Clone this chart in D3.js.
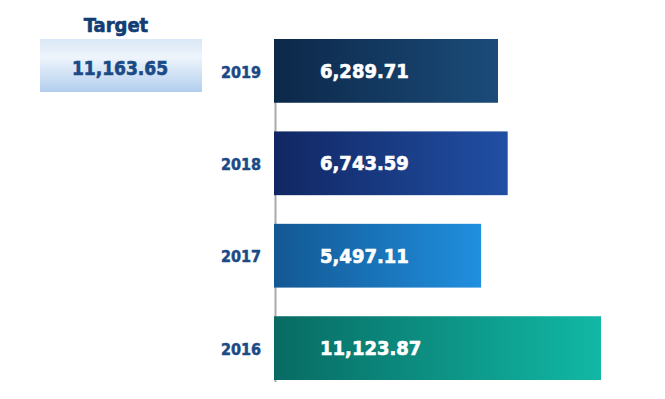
<!DOCTYPE html>
<html>
<head>
<meta charset="utf-8">
<script src="https://cdn.jsdelivr.net/npm/d3@7"></script>
<style>
  body { margin: 0; background: #fff; }
  text { font-family: "DejaVu Sans Condensed", "DejaVu Sans", sans-serif; font-weight: bold; font-stretch: condensed; }
</style>
</head>
<body>
<div id="chart"></div>
<script>
// data
const years = ["2019", "2018", "2017", "2016"];
const values = [6289.71, 6743.59, 5497.11, 11123.87];
const targetLabel = "Target";
const targetValue = 11163.65;

// gradient colours per bar (left, right)
const barColors = [
  ["#0c2849", "#1b4b79"],
  ["#112763", "#214fa4"],
  ["#135893", "#208fdf"],
  ["#086b63", "#11b8a5"]
];

const width = 665, height = 399;
const fmt = d3.format(",.2f");

const svg = d3.select("#chart")
  .append("svg")
    .attr("width", width)
    .attr("height", height);

const defs = svg.append("defs");

barColors.forEach(function(c, i) {
  const g = defs.append("linearGradient")
      .attr("id", "bar" + i)
      .attr("x1", "0%").attr("x2", "100%")
      .attr("y1", "0%").attr("y2", "0%");
  g.append("stop").attr("offset", "0%").attr("stop-color", c[0]);
  g.append("stop").attr("offset", "100%").attr("stop-color", c[1]);
});

const tg = defs.append("linearGradient")
    .attr("id", "targetGrad")
    .attr("x1", "0%").attr("x2", "0%")
    .attr("y1", "0%").attr("y2", "100%");
tg.append("stop").attr("offset", "0%").attr("stop-color", "#d9e7f6");
tg.append("stop").attr("offset", "35%").attr("stop-color", "#eef4fb");
tg.append("stop").attr("offset", "100%").attr("stop-color", "#b2ceee");

// scales
const x0 = 274;
const x = d3.scaleLinear()
    .domain([0, d3.max(values)])
    .range([90, 327]);

const y = d3.scaleBand()
    .domain(years)
    .range([39, 380])
    .paddingInner(0.31);

const data = years.map(function(d, i) { return {year: d, value: values[i], i: i}; });

// axis line behind the bars
svg.append("line")
    .attr("x1", x0 + 1.5).attr("x2", x0 + 1.5)
    .attr("y1", y.range()[0])
    .attr("y2", y.range()[1] + 2)
    .attr("stroke", "#aaaaaa")
    .attr("stroke-width", 2);

// bars
svg.selectAll(".bar")
  .data(data)
  .enter()
  .append("rect")
    .attr("class", "bar")
    .attr("x", x0)
    .attr("y", function(d) { return y(d.year); })
    .attr("width", function(d) { return x(d.value); })
    .attr("height", y.bandwidth())
    .attr("fill", function(d) { return "url(#bar" + d.i + ")"; });

// value labels
svg.selectAll(".val")
  .data(data)
  .enter()
  .append("text")
    .attr("class", "val")
    .attr("x", x0 + 46)
    .attr("y", function(d) { return y(d.year) + y.bandwidth() / 2; })
    .attr("dy", "0.36em")
    .attr("fill", "#ffffff")
    .attr("stroke", "#ffffff")
    .attr("stroke-width", 0.6)
    .style("font-size", "20px")
    .text(function(d) { return fmt(d.value); });

// year labels
svg.selectAll(".yr")
  .data(data)
  .enter()
  .append("text")
    .attr("class", "yr")
    .attr("x", 261)
    .attr("y", function(d) { return y(d.year) + y.bandwidth() / 2; })
    .attr("dy", "0.42em")
    .attr("text-anchor", "end")
    .attr("fill", "#1b4a86")
    .attr("stroke", "#1b4a86")
    .attr("stroke-width", 0.5)
    .style("font-size", "16px")
    .text(function(d) { return d.year; });

// target box
svg.append("text")
    .attr("x", 116)
    .attr("y", 32)
    .attr("text-anchor", "middle")
    .attr("fill", "#123d74")
    .attr("stroke", "#123d74")
    .attr("stroke-width", 0.6)
    .style("font-size", "20px")
    .text(targetLabel);

svg.append("rect")
    .attr("x", 40)
    .attr("y", 39)
    .attr("width", 162)
    .attr("height", 53)
    .attr("fill", "url(#targetGrad)");

svg.append("text")
    .attr("x", 120)
    .attr("y", 75)
    .attr("text-anchor", "middle")
    .attr("fill", "#1b4a86")
    .attr("stroke", "#1b4a86")
    .attr("stroke-width", 0.6)
    .style("font-size", "19px")
    .text(fmt(targetValue));
</script>
</body>
</html>
